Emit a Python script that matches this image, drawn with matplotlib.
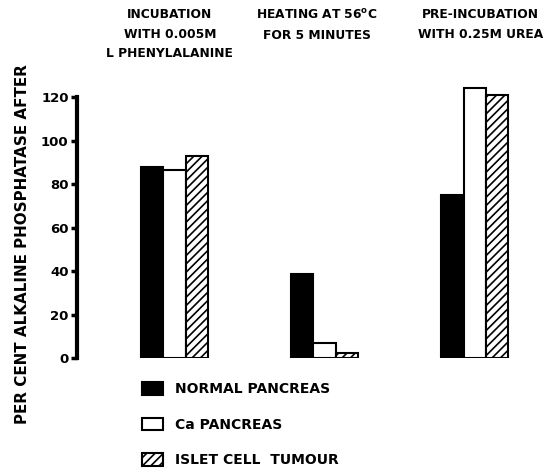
import numpy as np
import matplotlib
matplotlib.use("Agg")
import matplotlib.pyplot as plt
from matplotlib.patches import Patch

# Treatment groups (column headings) and the three tissue series
treatments = [
    "INCUBATION\nWITH 0.005M\nL PHENYLALANINE",
    "HEATING AT 56$^{\\mathbf{o}}$C\nFOR 5 MINUTES",
    "PRE-INCUBATION\nWITH 0.25M UREA",
]
normal_pancreas = [88, 38.5, 75]
ca_pancreas = [86.5, 7, 124]
islet_tumour = [93, 2.5, 121]
series_labels = ["NORMAL PANCREAS", "Ca PANCREAS", "ISLET CELL  TUMOUR"]
y_ticks = [0, 20, 40, 60, 80, 100, 120]

plt.rcParams["font.family"] = ["DejaVu Sans"]
plt.rcParams["font.weight"] = "bold"
plt.rcParams["hatch.linewidth"] = 1.2

fig = plt.figure(figsize=(5.59, 4.72), dpi=100)
ax = fig.add_axes([0.1377, 0.2415, 0.832, 0.599])

x = np.arange(len(treatments))
w = 0.147
ax.bar(x - w, normal_pancreas, w, color="black", edgecolor="black", linewidth=1.5)
ax.bar(x, ca_pancreas, w, color="white", edgecolor="black", linewidth=1.5)
ax.bar(x + w, islet_tumour, w, color="white", edgecolor="black", linewidth=1.5,
       hatch="////")

ax.set_xlim(-0.65, 2.45)
ax.set_ylim(0, 130)
ax.set_yticks(y_ticks)
ax.set_yticklabels([str(t) for t in y_ticks], fontsize=9.5, fontweight="bold")
ax.tick_params(axis="y", length=4, width=2.5, pad=2)
ax.set_xticks([])
for s in ["top", "right", "bottom"]:
    ax.spines[s].set_visible(False)
ax.spines["left"].set_linewidth(3)
ax.spines["left"].set_bounds(0, 120)

ax.set_ylabel("PER CENT ALKALINE PHOSPHATASE AFTER", fontsize=10.9,
              fontweight="bold", labelpad=0)
ax.yaxis.set_label_coords(-0.1, 0.403)

head_x = [0.304, 0.567, 0.859]
for hx, t in zip(head_x, treatments):
    fig.text(hx, 0.983, t, ha="center", va="top", fontsize=8.8,
             fontweight="bold", linespacing=1.65)

handles = [
    Patch(facecolor="black", edgecolor="black", linewidth=1.5),
    Patch(facecolor="white", edgecolor="black", linewidth=1.5),
    Patch(facecolor="white", edgecolor="black", linewidth=1.5, hatch="////"),
]
fig.legend(handles, series_labels, loc="upper left",
           bbox_to_anchor=(0.242, 0.205), frameon=False, fontsize=10,
           handlelength=1.5, handleheight=1.0, labelspacing=1.55,
           handletextpad=0.85, borderpad=0)

fig.savefig("out.png", dpi=100)
